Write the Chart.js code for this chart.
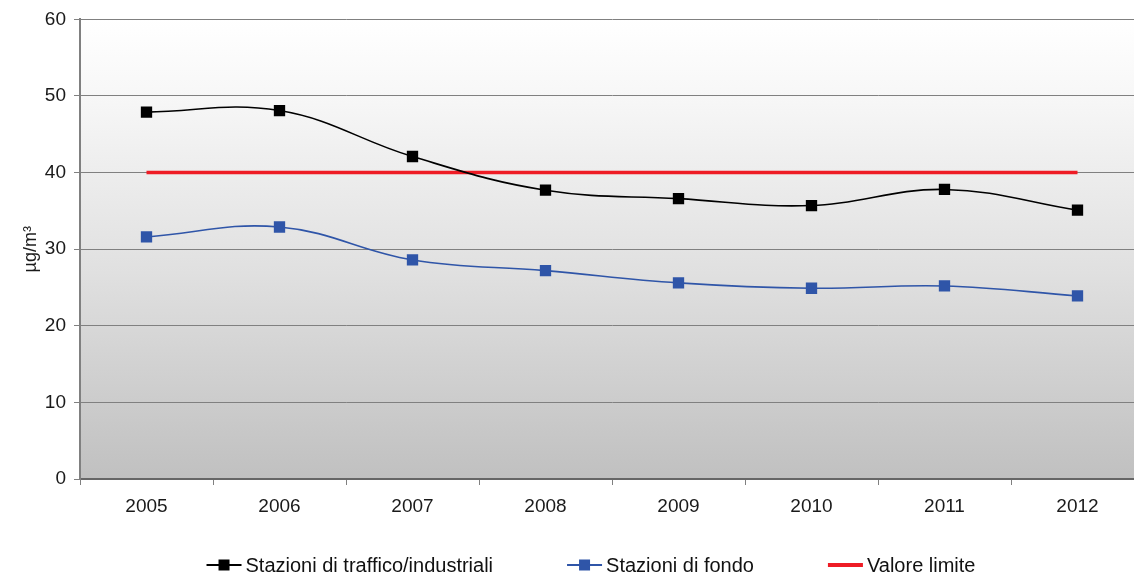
<!DOCTYPE html>
<html>
<head>
<meta charset="utf-8">
<script src="https://cdn.jsdelivr.net/npm/chart.js@4.4.1/dist/chart.umd.min.js"></script>
<style>
  html, body { margin: 0; padding: 0; background: #fff; overflow: hidden; }
  #wrap { width: 1152px; height: 573px; }
</style>
</head>
<body>
<div id="wrap"><canvas id="chart" width="1152" height="573"></canvas></div>
<script>
// values
const years = ["2005", "2006", "2007", "2008", "2009", "2010", "2011", "2012"];
const traffico = [47.9, 48.1, 42.1, 37.7, 36.6, 35.7, 37.8, 35.1];
const fondo = [31.6, 32.9, 28.6, 27.2, 25.6, 24.9, 25.2, 23.9];
const limite = [40, 40, 40, 40, 40, 40, 40, 40];
const seriesNames = ["Stazioni di traffico/industriali", "Stazioni di fondo", "Valore limite"];
const yTicks = [0, 10, 20, 30, 40, 50, 60];

const FONT = "'Liberation Sans', Arial, sans-serif";

// grey gradient behind the plot area
const plotBackground = {
  id: "plotBackground",
  beforeDraw(chart) {
    const { ctx, chartArea: a } = chart;
    const g = ctx.createLinearGradient(0, a.top, 0, a.bottom);
    g.addColorStop(0, "#ffffff");
    g.addColorStop(0.15, "#f8f8f8");
    g.addColorStop(0.55, "#e0e0e0");
    g.addColorStop(1, "#c0c0c0");
    ctx.save();
    ctx.fillStyle = g;
    ctx.fillRect(a.left, a.top, a.right - a.left, a.bottom - a.top);
    ctx.restore();
  },
};

// legend like the original: short line with a square marker, then text
const lineLegend = {
  id: "lineLegend",
  afterDraw(chart) {
    const ctx = chart.ctx;
    const ds = seriesNames.map((n) => chart.data.datasets.find((d) => d.label === n));
    const markW = 35, gapText = 4, gapItem = 74, cy = 565, cx = 591;
    ctx.save();
    ctx.font = "20px " + FONT;
    const widths = ds.map((d) => markW + gapText + ctx.measureText(d.label).width);
    const total = widths.reduce((s, w) => s + w, 0) + gapItem * (ds.length - 1);
    let x = cx - total / 2;
    ds.forEach((d, i) => {
      ctx.strokeStyle = d.borderColor;
      ctx.lineWidth = d.pointRadius ? 2 : 4;
      ctx.beginPath();
      ctx.moveTo(x, cy);
      ctx.lineTo(x + markW, cy);
      ctx.stroke();
      if (d.pointRadius) {
        ctx.fillStyle = d.pointBackgroundColor;
        ctx.fillRect(x + markW / 2 - 5.5, cy - 5.5, 11, 11);
      }
      ctx.fillStyle = "#111";
      ctx.textBaseline = "middle";
      ctx.textAlign = "left";
      ctx.fillText(d.label, x + markW + gapText, cy + 1);
      x += widths[i] + gapItem;
    });
    ctx.restore();
  },
};

new Chart(document.getElementById("chart"), {
  type: "line",
  data: {
    labels: years,
    datasets: [
      {
        label: seriesNames[2],
        data: limite,
        borderColor: "#ee1c25",
        borderWidth: 3.5,
        pointRadius: 0,
        tension: 0,
        order: 3,
      },
      {
        label: seriesNames[1],
        data: fondo,
        borderColor: "#2f55a8",
        borderWidth: 1.6,
        pointStyle: "rect",
        pointRadius: 8,
        pointBackgroundColor: "#2f55a8",
        pointBorderColor: "#2f55a8",
        pointBorderWidth: 0,
        tension: 0.4,
        order: 2,
      },
      {
        label: seriesNames[0],
        data: traffico,
        borderColor: "#000000",
        borderWidth: 1.6,
        pointStyle: "rect",
        pointRadius: 8,
        pointBackgroundColor: "#000000",
        pointBorderColor: "#000000",
        pointBorderWidth: 0,
        tension: 0.4,
        order: 1,
      },
    ],
  },
  options: {
    responsive: false,
    animation: false,
    layout: { padding: { top: 19, right: 6, bottom: 44, left: 0 } },
    plugins: {
      legend: { display: false },
      tooltip: { enabled: false },
    },
    scales: {
      x: {
        offset: true,
        grid: {
          offset: true,
          drawOnChartArea: false,
          drawTicks: true,
          tickLength: 6,
          color: "#808080",
        },
        border: { color: "#666666", width: 2 },
        ticks: { font: { family: FONT, size: 19 }, color: "#1a1a1a", padding: 10 },
        afterFit(scale) { scale.height = 50; },
      },
      y: {
        min: 0,
        max: 60,
        afterBuildTicks(scale) { scale.ticks = yTicks.map((v) => ({ value: v })); },
        grid: { color: "#808080", lineWidth: 1, tickLength: 6 },
        border: { color: "#808080", width: 2 },
        ticks: { font: { family: FONT, size: 19 }, color: "#1a1a1a", padding: 8 },
        title: {
          display: true,
          text: "µg/m³",
          font: { family: FONT, size: 18 },
          color: "#1a1a1a",
          padding: { top: 20, bottom: 0 },
        },
        afterFit(scale) { scale.width = 80; },
      },
    },
  },
  plugins: [plotBackground, lineLegend],
});
</script>
</body>
</html>
